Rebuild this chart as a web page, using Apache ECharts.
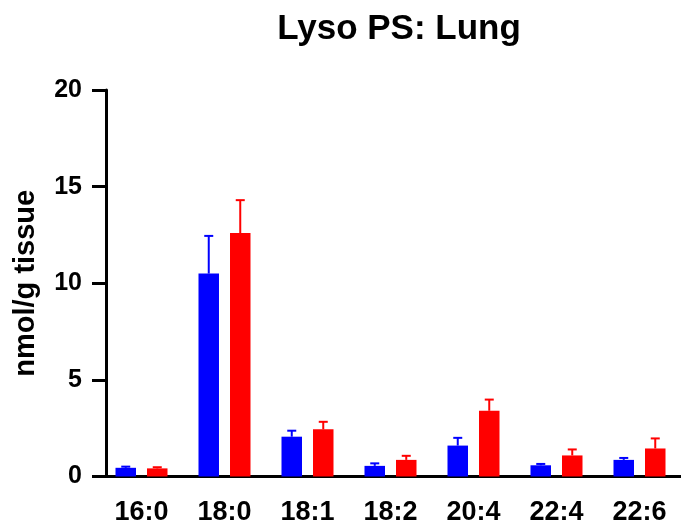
<!DOCTYPE html>
<html>
<head>
<meta charset="utf-8">
<script src="https://cdn.jsdelivr.net/npm/echarts@6/dist/echarts.min.js"></script>
<style>html,body{margin:0;padding:0;background:#fff;}#c{width:681px;height:529px;}</style>
</head>
<body>
<div id="c"></div>
<script>
var categories = ['16:0', '18:0', '18:1', '18:2', '20:4', '22:4', '22:6'];
var blueMean = [0.45, 10.5, 2.06, 0.55, 1.6, 0.58, 0.86];
var blueErr  = [0.06, 1.95, 0.31, 0.13, 0.4, 0.07, 0.1];
var redMean  = [0.42, 12.6, 2.44, 0.86, 3.4, 1.09, 1.45];
var redErr   = [0.06, 1.7, 0.39, 0.21, 0.58, 0.31, 0.52];
var yTicks = [0, 5, 10, 15, 20];

var FONT = '"Liberation Sans", Arial, sans-serif';
var BAR_W = 20.5, BAR_GAP = 11;

function errSeries(mean, err, color, dir) {
  var data = mean.map(function (m, i) { return [i, m, err[i]]; });
  return {
    type: 'custom',
    data: data,
    z: 5,
    renderItem: function (params, api) {
      var i = api.value(0), m = api.value(1), e = api.value(2);
      var base = api.coord([i, m]);
      var top = api.coord([i, m + e]);
      var x = base[0] + dir * (BAR_W + BAR_GAP) / 2;
      var cap = 4.5;
      return {
        type: 'group',
        children: [
          { type: 'line', shape: { x1: x, y1: base[1], x2: x, y2: top[1] }, style: { stroke: color, lineWidth: 2 } },
          { type: 'line', shape: { x1: x - cap, y1: top[1], x2: x + cap, y2: top[1] }, style: { stroke: color, lineWidth: 2 } }
        ]
      };
    }
  };
}

var chart = echarts.init(document.getElementById('c'));
chart.setOption({
  animation: false,
  backgroundColor: '#fff',
  title: {
    text: 'Lyso PS: Lung',
    left: 394, top: 7, textAlign: 'center',
    textStyle: { fontFamily: FONT, fontWeight: 'bold', fontSize: 35, color: '#000' }
  },
  grid: { left: 100, right: -2, top: 90, bottom: 52.5, containLabel: false },
  xAxis: {
    type: 'category',
    data: categories,
    axisLine: { lineStyle: { color: '#000', width: 3 } },
    axisTick: { alignWithLabel: true, length: 14, lineStyle: { color: '#000', width: 3 } },
    axisLabel: { margin: 23, fontFamily: FONT, fontWeight: 'bold', fontSize: 27, color: '#000' }
  },
  yAxis: {
    type: 'value',
    min: 0, max: 20, interval: 5,
    offset: -6,
    name: 'nmol/g tissue',
    nameLocation: 'middle',
    nameGap: 66,
    nameTextStyle: { fontFamily: FONT, fontWeight: 'bold', fontSize: 29, color: '#000' },
    axisLine: { show: true, lineStyle: { color: '#000', width: 3 } },
    axisTick: { show: true, length: 14, lineStyle: { color: '#000', width: 3 } },
    axisLabel: { margin: 24, fontFamily: FONT, fontWeight: 'bold', fontSize: 25, color: '#000',
      formatter: function (v) { return yTicks.indexOf(v) >= 0 ? String(v) : ''; } },
    splitLine: { show: false }
  },
  series: [
    { type: 'bar', data: blueMean, barWidth: BAR_W, barGap: (BAR_GAP / BAR_W * 100).toFixed(1) + '%', itemStyle: { color: '#0000ff' } },
    { type: 'bar', data: redMean, barWidth: BAR_W, itemStyle: { color: '#ff0000' } },
    errSeries(blueMean, blueErr, '#0000ff', -1),
    errSeries(redMean, redErr, '#ff0000', 1)
  ]
});
</script>
</body>
</html>
